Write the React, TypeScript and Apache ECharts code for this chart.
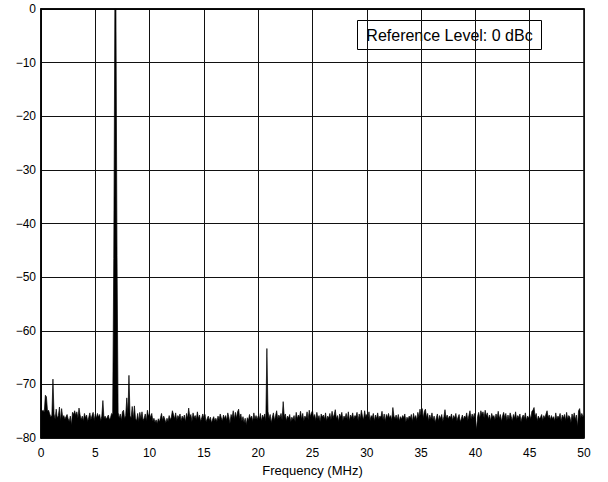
import React, { useEffect, useRef } from "react";
import * as echarts from "echarts";

// Frequency step of the FFT bins (MHz)
const binStep = 0.1;

// Spectrum levels (dBc), bins 0.0–9.9 MHz
const level0to10 = [
  -74.5, -75, -74.8, -75.2, -72, -72.3, -75, -74.8, -75.5, -76,
  -75.8, -69, -75.5, -76.5, -74.6, -76.3, -75.8, -74.2, -76.8, -74.5,
  -76.2, -75.8, -76.5, -76, -75.6, -76.4, -76.9, -75.9, -77.6, -75.2,
  -75.6, -74.9, -75.8, -75.1, -76.3, -74.4, -75.7, -76.6, -75.9, -76.8,
  -75.4, -76.2, -75.7, -76.9, -76.1, -75.3, -76.6, -75.8, -75.2, -76.7,
  -75.5, -76.3, -75.4, -76.1, -75.6, -76.8, -75.9, -73.0, -76.4, -75.9,
  -76.5, -76.1, -75.7, -76.6, -76.2, -75.4, -75.6, -46.5, 0, 0,
  -46, -75.2, -76.3, -75.5, -76.7, -75.1, -74.8, -76.4, -75.8, -72.5,
  -75.6, -68.3, -75.9, -76.2, -74.1, -76.5, -74.0, -76.3, -76.8, -75.4,
  -76.9, -75.2, -76.4, -75.1, -76.7, -76.3, -75.5, -76.8, -74.8, -75.9,
];

// bins 10.0–19.9 MHz
const level10to20 = [
  -75.5, -76.2, -75.4, -76.8, -76.3, -77.1, -76.6, -77.3, -76.4, -77.0,
  -76.2, -75.4, -76.7, -75.9, -76.5, -77.2, -76.3, -76.9, -75.8, -76.6,
  -76.1, -74.9, -75.6, -76.4, -75.3, -76.7, -75.8, -76.2, -75.5, -76.8,
  -75.9, -76.5, -75.7, -77.0, -75.4, -76.3, -74.4, -76.1, -75.6, -76.9,
  -75.3, -76.2, -75.8, -76.6, -75.1, -76.4, -75.7, -76.9, -76.2, -75.5,
  -76.3, -75.6, -77.0, -76.4, -75.9, -76.7, -76.1, -77.2, -76.5, -76.0,
  -76.8, -76.3, -76.9, -75.9, -76.6, -75.5, -76.2, -76.8, -75.7, -76.4,
  -75.8, -76.7, -75.3, -76.1, -77.3, -75.6, -76.2, -74.9, -76.5, -75.2,
  -76.3, -75.1, -74.6, -76.4, -75.5, -76.8, -76.0, -77.1, -76.3, -77.5,
  -76.2, -76.7, -75.6, -76.4, -75.9, -76.9, -75.3, -76.5, -75.8, -76.6,
];

// bins 20.0–29.9 MHz
const level20to30 = [
  -75.9, -76.5, -75.4, -76.8, -75.7, -76.3, -75.5, -76.9, -63.3, -75.0,
  -76.4, -75.6, -77.2, -76.1, -75.3, -76.7, -75.8, -74.9, -76.5, -75.7,
  -76.2, -75.4, -76.6, -73.2, -76.0, -75.5, -76.8, -75.9, -76.3, -75.6,
  -77.0, -76.1, -76.6, -75.8, -76.9, -75.2, -76.4, -75.7, -76.2, -75.0,
  -76.5, -75.4, -76.8, -75.9, -76.3, -75.1, -76.6, -74.8, -76.0, -75.3,
  -74.9, -76.2, -75.6, -76.7, -75.2, -76.4, -75.8, -76.9, -75.5, -76.1,
  -75.7, -76.5, -75.3, -76.8, -75.9, -76.3, -75.4, -76.6, -75.0, -76.2,
  -75.6, -74.7, -76.4, -75.8, -76.9, -75.5, -76.1, -75.2, -76.7, -75.9,
  -76.3, -75.4, -76.6, -75.1, -76.8, -75.7, -76.2, -75.3, -76.5, -75.8,
  -76.0, -75.2, -76.7, -75.5, -76.4, -74.8, -75.9, -76.6, -74.9, -76.1,
];

// bins 30.0–39.9 MHz
const level30to40 = [
  -75.6, -76.3, -75.1, -76.7, -75.8, -76.2, -75.4, -76.8, -75.7, -76.4,
  -75.3, -76.5, -75.9, -76.1, -75.0, -76.6, -75.5, -76.9, -75.6, -76.2,
  -75.4, -76.3, -75.8, -76.7, -74.3, -75.9, -76.4, -75.7, -76.6, -75.6,
  -76.8, -76.0, -76.5, -75.8, -76.2, -75.5, -77.0, -76.1, -76.6, -75.9,
  -76.3, -75.6, -76.9, -75.4, -76.4, -75.8, -76.7, -75.2, -76.1, -74.6,
  -75.9, -74.5, -76.3, -75.0, -74.6, -76.2, -75.4, -76.8, -75.7, -76.5,
  -75.3, -76.6, -75.9, -77.1, -76.2, -75.5, -76.8, -75.8, -76.4, -75.6,
  -76.9, -76.0, -74.7, -76.3, -75.7, -76.5, -75.9, -76.2, -75.5, -76.7,
  -75.8, -76.3, -75.4, -76.8, -76.1, -75.6, -77.0, -76.4, -75.7, -76.6,
  -75.9, -76.2, -75.3, -76.7, -75.8, -74.9, -76.5, -75.5, -76.3, -75.4,
];

// bins 40.0–50.0 MHz
const level40to50 = [
  -76.6, -78.4, -76.0, -75.2, -76.4, -74.9, -75.6, -75.1, -76.2, -74.8,
  -75.9, -75.3, -76.5, -75.7, -76.8, -75.4, -76.1, -75.8, -76.6, -75.5,
  -76.3, -75.0, -76.4, -75.6, -76.9, -75.9, -75.2, -76.2, -75.4, -76.7,
  -75.7, -76.5, -75.3, -76.0, -76.8, -75.6, -76.3, -75.1, -76.6, -75.8,
  -76.2, -75.5, -77.0, -76.1, -75.7, -76.4, -75.3, -76.7, -75.9, -76.3,
  -75.6, -76.5, -75.0, -74.8, -74.3, -76.0, -75.4, -76.8, -75.9, -76.4,
  -76.1, -75.6, -76.7, -75.8, -76.3, -75.5, -74.9, -76.2, -75.7, -76.6,
  -75.8, -76.4, -76.0, -76.8, -75.3, -76.5, -75.9, -76.2, -75.4, -76.9,
  -75.7, -76.3, -75.6, -76.7, -75.2, -76.5, -75.8, -76.1, -77.1, -75.5,
  -76.4, -75.3, -76.6, -75.7, -77.9, -74.9, -74.5, -76.2, -75.4, -76.0,
  -75.8,
];

const xTicks = [0, 5, 10, 15, 20, 25, 30, 35, 40, 45, 50];
const yTicks = [0, -10, -20, -30, -40, -50, -60, -70, -80];
const xAxisTitle = "Frequency (MHz)";
const referenceText = "Reference Level: 0 dBc";

const FONT = "'Liberation Sans', Arial, Helvetica, sans-serif";

export default function App() {
  const ref = useRef<HTMLDivElement>(null);

  useEffect(() => {
    document.body.style.margin = "0";
    if (!ref.current) return;
    const chart = echarts.init(ref.current, undefined, { renderer: "svg" });

    const levels = [
      ...level0to10,
      ...level10to20,
      ...level20to30,
      ...level30to40,
      ...level40to50,
    ];
    const data = levels.map((v, i) => [Math.round(i * binStep * 10) / 10, v]);

    const minusFmt = (v: number) => String(v).replace("-", "\u2212");

    chart.setOption({
      animation: false,
      backgroundColor: "#fff",
      grid: {
        left: 41,
        right: 24,
        top: 9,
        bottom: 40,
        show: true,
        borderColor: "#000",
        borderWidth: 1.5,
        containLabel: false,
      },
      xAxis: {
        type: "value",
        min: xTicks[0],
        max: xTicks[xTicks.length - 1],
        interval: xTicks[1] - xTicks[0],
        name: xAxisTitle,
        nameLocation: "middle",
        nameGap: 30,
        nameTextStyle: {
          fontFamily: FONT,
          fontSize: 13,
          color: "#000",
          verticalAlign: "middle",
        },
        axisLine: { show: true, lineStyle: { color: "#000", width: 1.5 } },
        axisTick: { show: false },
        axisLabel: {
          fontFamily: FONT,
          fontSize: 12,
          color: "#000",
          margin: 9,
          formatter: minusFmt,
        },
        splitLine: { show: true, lineStyle: { color: "#111", width: 1 } },
      },
      yAxis: {
        type: "value",
        min: yTicks[yTicks.length - 1],
        max: yTicks[0],
        interval: 10,
        axisLine: { show: true, lineStyle: { color: "#000", width: 1.5 } },
        axisTick: { show: false },
        axisLabel: {
          fontFamily: FONT,
          fontSize: 12,
          color: "#000",
          margin: 5,
          formatter: minusFmt,
        },
        splitLine: { show: true, lineStyle: { color: "#111", width: 1 } },
      },
      series: [
        {
          type: "line",
          data,
          showSymbol: false,
          symbol: "none",
          lineStyle: { color: "#000", width: 0.7 },
          areaStyle: { color: "#000", opacity: 1, origin: "start" },
          z: 3,
        },
      ],
      graphic: [
        {
          type: "group",
          left: 357,
          top: 20,
          z: 10,
          children: [
            {
              type: "rect",
              shape: { x: 0, y: 0, width: 184, height: 29 },
              style: { fill: "#fff", stroke: "#000", lineWidth: 1 },
            },
            {
              type: "text",
              x: 92,
              y: 14.5,
              style: {
                text: referenceText,
                fontFamily: FONT,
                fontSize: 16,
                fill: "#000",
                align: "center",
                verticalAlign: "middle",
              },
            },
          ],
        },
      ],
    });

    return () => chart.dispose();
  }, []);

  return <div ref={ref} style={{ width: 608, height: 482 }} />;
}
